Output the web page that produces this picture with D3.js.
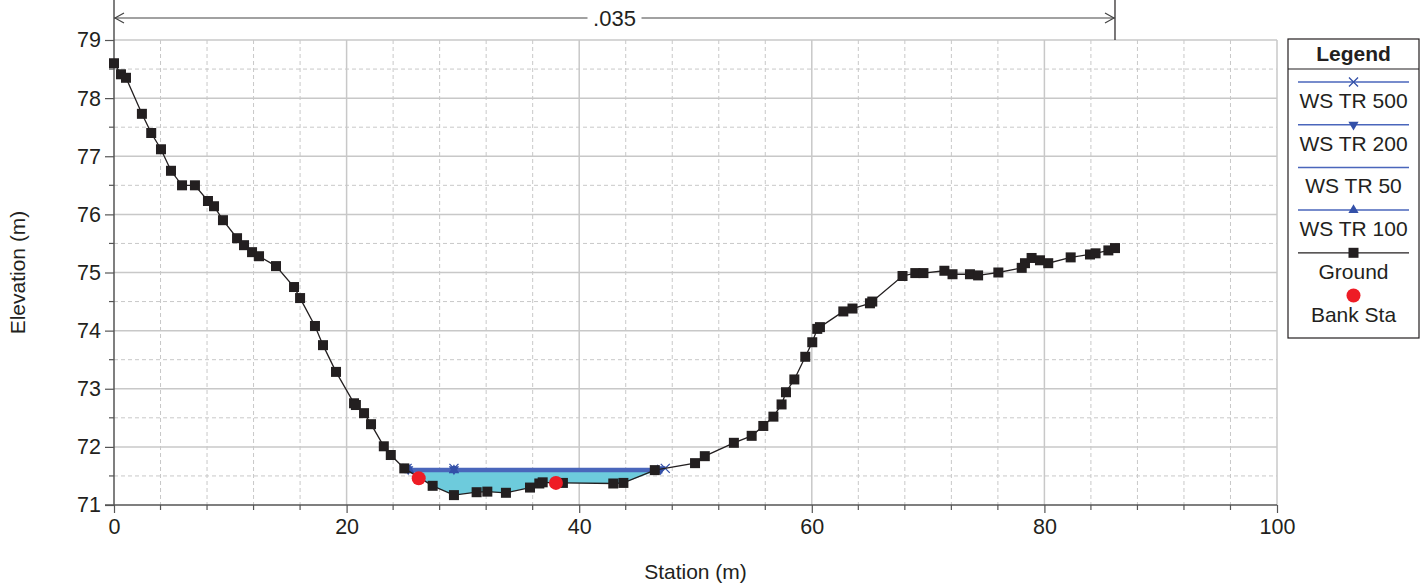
<!DOCTYPE html>
<html><head><meta charset="utf-8">
<script src="https://cdn.jsdelivr.net/npm/d3@7"></script>
<style>
body{margin:0;background:#fff;}
svg{display:block;font-family:"Liberation Sans",Arial,sans-serif;}
</style></head>
<body>
<svg id="chart" width="1428" height="588"></svg>
<script>
// ---- data ----
const groundStation = [0,0.6,1.03,2.4,3.2,4.04,4.9,5.85,6.96,8.08,8.6,9.37,10.58,11.18,11.87,12.47,13.93,15.48,16.0,17.28,17.97,19.09,20.64,20.8,21.5,22.1,23.2,23.8,24.96,27.4,29.23,31.18,32.1,33.7,35.77,36.57,36.86,38.0,38.6,42.93,43.8,46.5,49.96,50.8,53.3,54.83,55.83,56.7,57.4,57.78,58.5,59.44,60.04,60.47,60.7,62.71,63.5,65.0,65.2,67.8,68.9,69.6,71.4,72.1,73.6,74.3,76.04,78.05,78.33,78.9,79.62,80.33,82.26,83.92,84.4,85.5,86.07];
const groundElev = [78.60,78.41,78.35,77.73,77.40,77.12,76.75,76.50,76.50,76.23,76.14,75.90,75.59,75.47,75.35,75.28,75.11,74.75,74.56,74.08,73.75,73.29,72.75,72.72,72.58,72.39,72.01,71.86,71.63,71.33,71.17,71.22,71.23,71.21,71.30,71.37,71.39,71.38,71.38,71.37,71.38,71.60,71.72,71.84,72.07,72.19,72.36,72.52,72.73,72.94,73.16,73.55,73.80,74.03,74.06,74.33,74.38,74.47,74.50,74.94,74.99,74.99,75.03,74.97,74.97,74.95,75.00,75.08,75.16,75.25,75.21,75.16,75.26,75.31,75.33,75.38,75.42];
const wsNames = ["WS TR 500","WS TR 200","WS TR 50","WS TR 100"];
const wsElev = [71.630,71.615,71.578,71.598];
const wsStart = [25.2,25.3,25.55,25.4];
const wsEnd = [47.4,47.0,46.5,46.75];
const wsMarkerStations = [29.23];
const bankStation = [26.2,38.0];
const bankElev = [71.46,71.38];
const xTicks = [0,20,40,60,80,100];
const yTicks = [71,72,73,74,75,76,77,78,79];
const manningN = ".035";

// ---- setup ----
const svg = d3.select("#chart");
const L=114,R=1277,T=40,B=505;
const x = d3.scaleLinear().domain([0,100]).range([L,R]);
const y = d3.scaleLinear().domain([71,79]).range([B,T]);
const ink="#231f20", grid="#c8c8c8", wsLine="#4a66bb", wsMark="#3350a8", fillCol="#6dcbdc", red="#ee1c25";
const FS=21;

// gridlines
const g = svg.append("g");
d3.range(4,100,4).filter(v=>v%20!==0).forEach(v=>{
  g.append("line").attr("x1",x(v)).attr("x2",x(v)).attr("y1",T).attr("y2",B)
   .attr("stroke",grid).attr("stroke-dasharray","4,3");
});
d3.range(71.5,79,1).forEach(v=>{
  g.append("line").attr("x1",L).attr("x2",R).attr("y1",y(v)).attr("y2",y(v))
   .attr("stroke",grid).attr("stroke-dasharray","4,3");
});
xTicks.filter(v=>v>0).forEach(v=>{
  g.append("line").attr("x1",x(v)).attr("x2",x(v)).attr("y1",T).attr("y2",B)
   .attr("stroke",grid).attr("stroke-width",1.5);
});
yTicks.filter(v=>v>71).forEach(v=>{
  g.append("line").attr("x1",L).attr("x2",R).attr("y1",y(v)).attr("y2",y(v))
   .attr("stroke",grid).attr("stroke-width",1.5);
});

// axes
const xAxis = d3.axisBottom(x).tickValues(xTicks).tickSize(8).tickPadding(6);
const gx = svg.append("g").attr("transform",`translate(0,${B})`).call(xAxis);
gx.select(".domain").remove();
gx.selectAll(".tick line").attr("stroke","#555").attr("stroke-width",1.2);
gx.selectAll("text").attr("font-size",21.5).attr("fill",ink).attr("font-family","Liberation Sans, Arial");
d3.range(4,100,4).filter(v=>v%20!==0).forEach(v=>{
  svg.append("line").attr("x1",x(v)).attr("x2",x(v)).attr("y1",B).attr("y2",B+5).attr("stroke","#555").attr("stroke-width",1.2);
});
const yAxis = d3.axisLeft(y).tickValues(yTicks).tickSize(9).tickPadding(4);
const gy = svg.append("g").attr("transform",`translate(${L},0)`).call(yAxis);
gy.select(".domain").remove();
gy.selectAll(".tick line").attr("stroke","#555").attr("stroke-width",1.2);
gy.selectAll("text").attr("font-size",21.5).attr("fill",ink).attr("font-family","Liberation Sans, Arial");
d3.range(71.5,79,1).forEach(v=>{
  svg.append("line").attr("x1",L-5).attr("x2",L).attr("y1",y(v)).attr("y2",y(v)).attr("stroke","#555").attr("stroke-width",1.2);
});
svg.append("line").attr("x1",L-9).attr("x2",R).attr("y1",B).attr("y2",B).attr("stroke","#555").attr("stroke-width",1.5);
svg.append("line").attr("x1",L).attr("x2",L).attr("y1",0).attr("y2",B).attr("stroke","#555").attr("stroke-width",1.5);

// axis titles
svg.append("text").attr("x",(L+R)/2).attr("y",579).attr("text-anchor","middle")
  .attr("font-size",FS).attr("fill",ink).text("Station (m)");
svg.append("text").attr("transform",`translate(25,${(T+B)/2}) rotate(-90)`).attr("text-anchor","middle")
  .attr("font-size",FS).attr("fill",ink).text("Elevation (m)");

// manning n annotation
const gEnd = groundStation[groundStation.length-1];
const ay=18;
svg.append("line").attr("x1",x(gEnd)).attr("x2",x(gEnd)).attr("y1",0).attr("y2",T).attr("stroke",ink).attr("stroke-width",1.2);
svg.append("line").attr("x1",x(0)).attr("x2",x(gEnd)).attr("y1",ay).attr("y2",ay).attr("stroke","#444").attr("stroke-width",1.2);
svg.append("path").attr("d",`M${x(0)+10},${ay-5}L${x(0)+1},${ay}L${x(0)+10},${ay+5}`).attr("fill","none").attr("stroke","#444").attr("stroke-width",1.2);
svg.append("path").attr("d",`M${x(gEnd)-10},${ay-5}L${x(gEnd)-1},${ay}L${x(gEnd)-10},${ay+5}`).attr("fill","none").attr("stroke","#444").attr("stroke-width",1.2);
const mx=(x(0)+x(gEnd))/2;
svg.append("rect").attr("x",mx-27).attr("y",ay-12).attr("width",54).attr("height",24).attr("fill","#fff");
svg.append("text").attr("x",mx).attr("y",ay+8).attr("text-anchor","middle").attr("font-size",22).attr("fill",ink).text(manningN);

// ground helper
const ground = groundStation.map((s,i)=>({s,e:groundElev[i]}));
const gInterp = s=>{
  for(let i=1;i<ground.length;i++){
    if(s<=ground[i].s){const a=ground[i-1],b=ground[i];return a.e+(b.e-a.e)*(s-a.s)/(b.s-a.s);}
  }
  return ground[ground.length-1].e;
};

// water fill (lowest WS)
const lowIdx = wsElev.indexOf(d3.min(wsElev));
const fs = wsStart[lowIdx], fe = wsEnd[lowIdx], fw = wsElev[lowIdx];
const fillPts = [fs, ...groundStation.filter(s=>s>fs&&s<fe), fe];
svg.append("path").datum(fillPts)
  .attr("d",d3.area().x(s=>x(s)).y0(s=>y(Math.min(gInterp(s),fw))).y1(y(fw)))
  .attr("fill",fillCol);

// WS lines
const markerSym = [d3.symbolX, d3.symbolTriangle, null, d3.symbolTriangle];
const markerRot = [0,180,0,0];
wsNames.forEach((n,i)=>{
  svg.append("line").attr("x1",x(wsStart[i])).attr("x2",x(wsEnd[i])).attr("y1",y(wsElev[i])).attr("y2",y(wsElev[i]))
    .attr("stroke",wsLine).attr("stroke-width",1.5);
});
wsNames.forEach((n,i)=>{
  if(!markerSym[i]) return;
  const sts=[wsStart[i],...wsMarkerStations,wsEnd[i]];
  sts.forEach(s=>{
    const p=svg.append("path").attr("d",d3.symbol(markerSym[i], markerSym[i]===d3.symbolX?55:45)())
      .attr("transform",`translate(${x(s)},${y(wsElev[i])}) rotate(${markerRot[i]})`);
    if(markerSym[i]===d3.symbolX) p.attr("fill","none").attr("stroke",wsMark).attr("stroke-width",1.3);
    else p.attr("fill",wsMark);
  });
});

// ground line and markers
svg.append("path").datum(ground)
  .attr("d",d3.line().x(d=>x(d.s)).y(d=>y(d.e)))
  .attr("fill","none").attr("stroke",ink).attr("stroke-width",1.3);
svg.append("g").selectAll("rect").data(ground).join("rect")
  .attr("x",d=>x(d.s)-5).attr("y",d=>y(d.e)-5).attr("width",10).attr("height",10).attr("fill",ink);

// bank stations
svg.append("g").selectAll("circle").data(bankStation).join("circle")
  .attr("cx",d=>x(d)).attr("cy",(d,i)=>y(bankElev[i])).attr("r",7).attr("fill",red);

// legend
const lg = svg.append("g");
const lx=1288, lw=131, lcx=lx+lw/2;
lg.append("rect").attr("x",lx).attr("y",39).attr("width",lw).attr("height",299).attr("fill","#fff").attr("stroke",ink).attr("stroke-width",1.2);
lg.append("line").attr("x1",lx).attr("x2",lx+lw).attr("y1",69).attr("y2",69).attr("stroke",ink).attr("stroke-width",1.2);
lg.append("text").attr("x",lcx).attr("y",61).attr("text-anchor","middle").attr("font-size",FS).attr("font-weight","bold").attr("fill",ink).text("Legend");
const legendItems = [...wsNames,"Ground","Bank Sta"];
legendItems.forEach((n,i)=>{
  const ly = 82 + i*42.7;
  if(i<4){
    lg.append("line").attr("x1",1298).attr("x2",1409).attr("y1",ly).attr("y2",ly).attr("stroke",wsLine).attr("stroke-width",1.5);
    if(markerSym[i]){
      const p=lg.append("path").attr("d",d3.symbol(markerSym[i], markerSym[i]===d3.symbolX?55:45)())
        .attr("transform",`translate(${lcx},${ly}) rotate(${markerRot[i]})`);
      if(markerSym[i]===d3.symbolX) p.attr("fill","none").attr("stroke",wsMark).attr("stroke-width",1.3);
      else p.attr("fill",wsMark);
    }
  } else if(i===4){
    lg.append("line").attr("x1",1298).attr("x2",1409).attr("y1",ly).attr("y2",ly).attr("stroke",ink).attr("stroke-width",1.3);
    lg.append("rect").attr("x",lcx-5).attr("y",ly-5).attr("width",10).attr("height",10).attr("fill",ink);
  } else {
    lg.append("circle").attr("cx",lcx).attr("cy",ly).attr("r",7).attr("fill",red);
  }
  lg.append("text").attr("x",lcx).attr("y",ly+26).attr("text-anchor","middle").attr("font-size",FS).attr("fill",ink).text(n);
});
</script>
</body></html>
